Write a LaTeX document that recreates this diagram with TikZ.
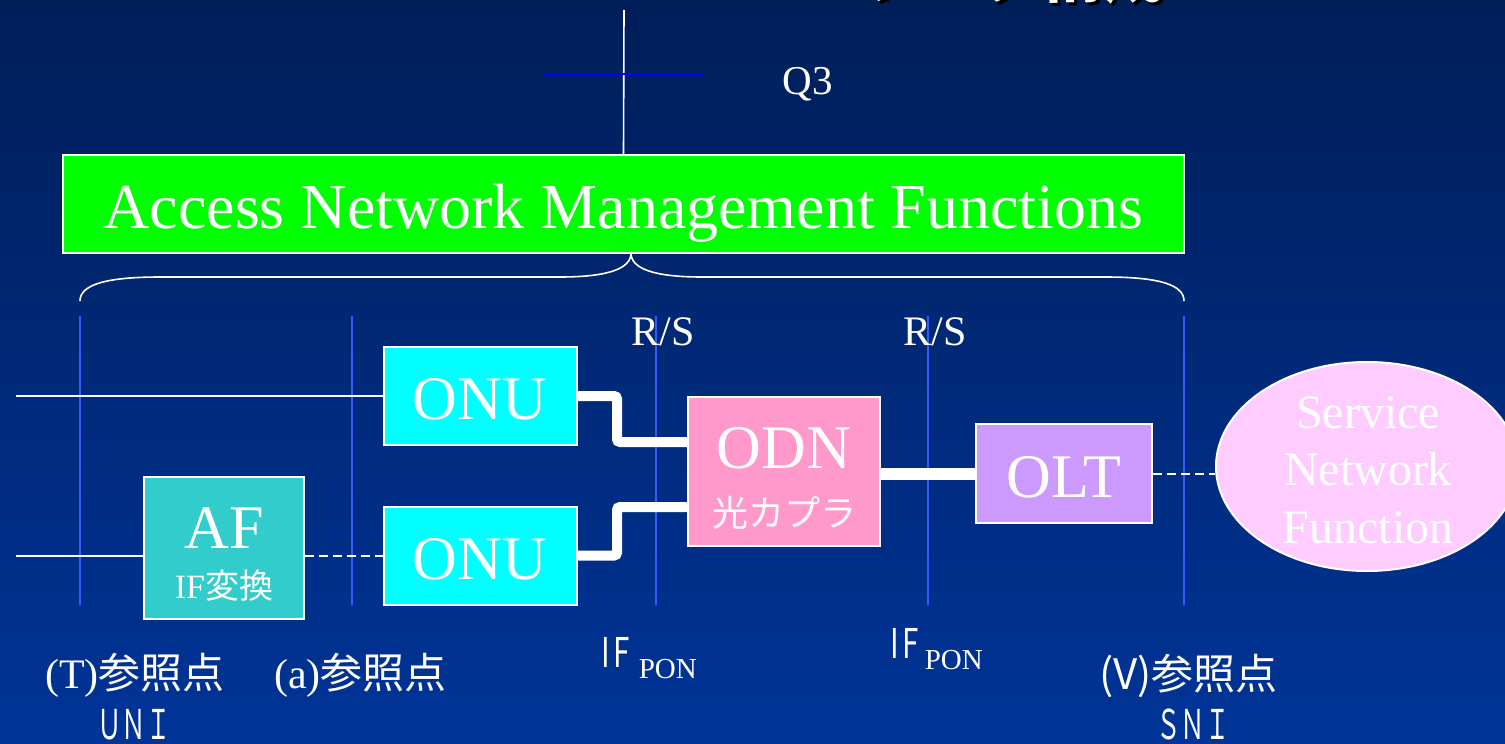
\documentclass[tikz,border=0pt]{standalone}
\usepackage{fontspec}
\setmainfont{Liberation Serif}
\newfontfamily\cjk{Noto Sans CJK JP}
\usepackage{graphicx}
\usetikzlibrary{shapes.geometric}
\newcommand\fsz[1]{\fontsize{#1pt}{#1pt}\selectfont}
\definecolor{bgtop}{RGB}{0,30,88}
\definecolor{bgbot}{RGB}{0,52,152}
\definecolor{refblue}{RGB}{50,90,255}
\definecolor{qblue}{RGB}{0,0,255}
\definecolor{mgreen}{RGB}{0,255,0}
\definecolor{mcyan}{RGB}{0,255,255}
\definecolor{mteal}{RGB}{51,204,204}
\definecolor{mpink}{RGB}{255,153,204}
\definecolor{mviolet}{RGB}{204,153,255}
\definecolor{mlpink}{RGB}{255,204,255}
\begin{document}
\begin{tikzpicture}[x=1pt,y=-1pt,
  box/.style={draw=white, line width=2pt, inner sep=0pt},
  wl/.style={draw=white, line width=1.6pt},
  refl/.style={draw=refblue, line width=1.6pt},
  fat/.style={draw=white, line width=10pt, rounded corners=3pt},
  dsh/.style={draw=white, line width=2pt, dash pattern=on 9pt off 5pt},
  lbl/.style={text=white, inner sep=0pt, anchor=base},
  lblw/.style={text=white, inner sep=0pt, anchor=base west}]
\useasboundingbox (0,0) rectangle (1505,744);
\shade[top color=bgtop, bottom color=bgbot] (0,0) rectangle (1505,744);

% cut-off title
\node[anchor=base east, text=black, inner sep=0pt] (titlesh) at (1168,1) {\cjk\bfseries\fsz{62}ワーク構成};
\node[anchor=base east, text=white, inner sep=0pt] (title) at (1165,-2) {\cjk\bfseries\fsz{62}ワーク構成};

% management box
\node[box, fill=mgreen, minimum width=1121pt, minimum height=98pt] (anms) at (623.5,204) {};
\node[lbl] (anmstxt) at (623.5,228) {\fsz{64}Access Network Management Functions};

% Q3
\coordinate (q3top) at (624,10);
\draw[wl] (q3top) -- (anms.north);
\coordinate (qa) at (543,74);
\coordinate (qb) at (704,74);
\draw[draw=qblue, line width=1.6pt] (qa) -- (qb);
\node[lbl] (q3) at (808,94) {\fsz{41}Q3};

% brace
\draw[wl] (80,301) .. controls (80,285) and (105,277) .. (160,277) -- (560,277)
  .. controls (610,277) and (631,268) .. (631,253)
  .. controls (631,268) and (652,277) .. (702,277) -- (1105,277)
  .. controls (1160,277) and (1184,285) .. (1184,301);

% reference lines
\foreach \x in {80,352,656,928,1184} {
  \draw[refl] (\x,316) -- (\x,605);
}

% boxes
\node[box, fill=mcyan, minimum width=193pt, minimum height=98pt] (onu1) at (480,396) {};
\node[box, fill=mcyan, minimum width=193pt, minimum height=98pt] (onu2) at (480,555.5) {};
\node[box, fill=mteal, minimum width=160pt, minimum height=142pt] (af) at (224,548) {};
\node[box, fill=mpink, minimum width=192pt, minimum height=149pt] (odn) at (784,471.5) {};
\node[box, fill=mviolet, minimum width=176pt, minimum height=99pt] (olt) at (1064,473.5) {};
\node[ellipse, draw=white, line width=2pt, fill=mlpink, minimum width=302pt, minimum height=209pt, inner sep=0pt] (snf) at (1367,466.5) {};

% box texts
\node[lbl] (onu1t) at (480,419) {\fsz{62}ONU};
\node[lbl] (onu2t) at (480,579) {\fsz{62}ONU};
\node[lbl] (aft) at (224,548) {\fsz{62}AF};
\node[lbl] (afs) at (224,598) {\fsz{34}IF{\cjk 変換}};
\node[lbl] (odnt) at (784,468) {\fsz{62}ODN};
\node[lbl] (odns) at (784,526) {\cjk\fsz{36}光カプラ};
\node[lbl] (oltt) at (1064,497) {\fsz{62}OLT};
\node[lbl] (snf1) at (1368,428) {\fsz{48}Service};
\node[lbl] (snf2) at (1368,485) {\fsz{48}Network};
\node[lbl] (snf3) at (1368,543) {\fsz{48}Function};

% input lines
\coordinate (in1) at (16,396);
\coordinate (in2) at (16,556);
\draw[wl] (in1) -- (in1 -| onu1.west);
\draw[wl] (in2) -- (in2 -| af.west);

% connectors
\draw[dsh] (onu2.west -| af.east) -- (onu2.west);
\draw[fat] (onu1.east) -| (617,442) -- (odn.west |- 617,442);
\draw[fat] (onu2.east) -| (617,507) -- (odn.west |- 617,507);
\draw[white, line width=12pt] (odn.east |- olt.west) -- (olt.west);
\draw[dsh] (olt.east) -- (olt.east -| snf.west);

% R/S labels
\node[lbl] (rs1) at (663,345) {\fsz{42}R/S};
\node[lbl] (rs2) at (935,345) {\fsz{42}R/S};

% bottom labels
\node[lblw] (ifpon1) at (601,667) {\cjk\fsz{41}\scalebox{0.72}[1]{I\hspace{5pt}F}\hspace{9pt}\raisebox{-11pt}{\rmfamily\fsz{29}PON}};
\node[lblw] (ifpon2) at (890,658) {\cjk\fsz{41}\scalebox{0.72}[1]{I\hspace{5pt}F}\hspace{6pt}\raisebox{-11pt}{\rmfamily\fsz{29}PON}};
\node[lblw] (tref) at (45,688) {\fsz{42}(T)\cjk 参照点};
\node[lblw] (aref) at (274,688) {\fsz{42}(a)\cjk 参照点};
\node[lblw] (vref) at (1099,689) {\cjk\fsz{42}(V)参照点};
\node[lblw] (uni) at (97,739) {\cjk\fsz{41}\scalebox{0.6}[1]{ＵＮＩ}};
\node[lblw] (sni) at (1156,739) {\cjk\fsz{41}\scalebox{0.6}[1]{ＳＮＩ}};
\end{tikzpicture}
\end{document}
